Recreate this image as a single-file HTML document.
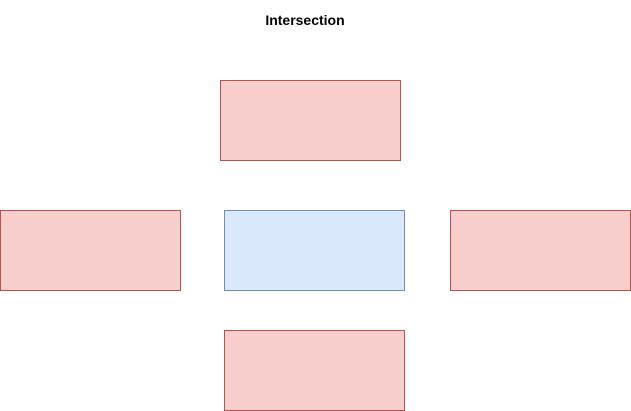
<!DOCTYPE html>
<html><head><meta charset="utf-8"><style>
html,body{margin:0;padding:0;background:#fff;width:631px;height:411px;overflow:hidden}
</style></head><body>
<svg width="631" height="411" viewBox="0 0 631 411" xmlns="http://www.w3.org/2000/svg">
<text x="305" y="25" text-anchor="middle" font-family="Liberation Sans, sans-serif" font-size="14" font-weight="bold" fill="#000">Intersection</text>
<rect x="220.5" y="80.5" width="180" height="80" fill="#f8cecc" stroke="#b85450"/>
<rect x="0.5" y="210.5" width="180" height="80" fill="#f8cecc" stroke="#b85450"/>
<rect x="224.5" y="210.5" width="180" height="80" fill="#dae8fc" stroke="#6c8ebf"/>
<rect x="450.5" y="210.5" width="180" height="80" fill="#f8cecc" stroke="#b85450"/>
<rect x="224.5" y="330.5" width="180" height="80" fill="#f8cecc" stroke="#b85450"/>
</svg>
</body></html>
